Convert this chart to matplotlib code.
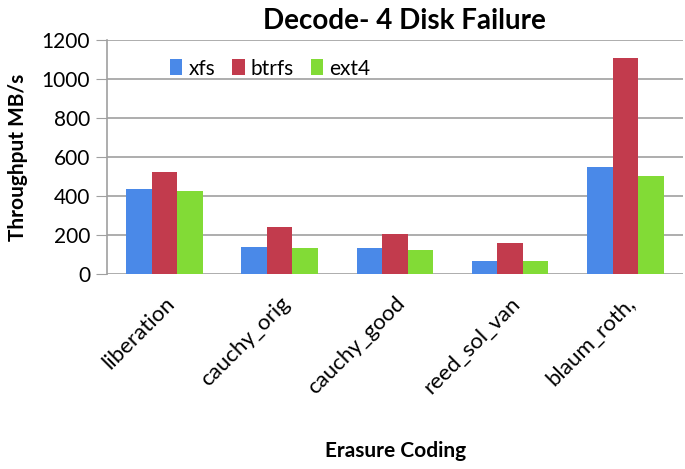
import numpy as np
import matplotlib.pyplot as plt

plt.rcParams['font.family'] = ['Lato', 'DejaVu Sans']

categories = ['liberation', 'cauchy_orig', 'cauchy_good', 'reed_sol_van', 'blaum_roth,']
xfs = [436, 137, 132, 68, 549]
btrfs = [525, 239, 205, 157, 1106]
ext4 = [427, 132, 123, 68, 501]

fig = plt.figure(figsize=(6.85, 4.69), dpi=100)
ax = fig.add_axes([0.156, 0.416, 0.841, 0.499])

x = np.arange(len(categories))
w = 0.222
ax.bar(x - w, xfs, w, color='#4a89e8', label='xfs', zorder=3)
ax.bar(x, btrfs, w, color='#c23b4d', label='btrfs', zorder=3)
ax.bar(x + w, ext4, w, color='#82db36', label='ext4', zorder=3)

ax.set_xlim(-0.5, 4.5)
ax.set_ylim(0, 1200)
ax.set_yticks(np.arange(0, 1201, 200))
ax.yaxis.grid(True, color='#a0a0a0', linewidth=1.2, zorder=0)
ax.set_xticks(x)
ax.set_xticklabels(categories, rotation=45, ha='right', rotation_mode='anchor', fontsize=16)
ax.tick_params(axis='y', labelsize=15, length=8, color='#a0a0a0', pad=4)
ax.tick_params(axis='x', length=0, pad=14)
for s in ['top', 'right', 'bottom']:
    ax.spines[s].set_visible(False)
ax.spines['left'].set_color('#a0a0a0')
ax.spines['left'].set_linewidth(1.2)

ax.set_title('Decode- 4 Disk Failure', fontsize=20, fontweight='bold', pad=8, x=0.517)
ax.set_ylabel('Throughput MB/s', fontsize=15, fontweight='bold', labelpad=10)
fig.text(0.577, 0.025, 'Erasure Coding', fontsize=15, fontweight='bold', ha='center')

ax.legend(loc='upper left', bbox_to_anchor=(0.077, 1.0), ncol=3, frameon=False,
          fontsize=15, handlelength=0.6, handleheight=0.8, handletextpad=0.3, columnspacing=0.8)

plt.savefig('out.png')
